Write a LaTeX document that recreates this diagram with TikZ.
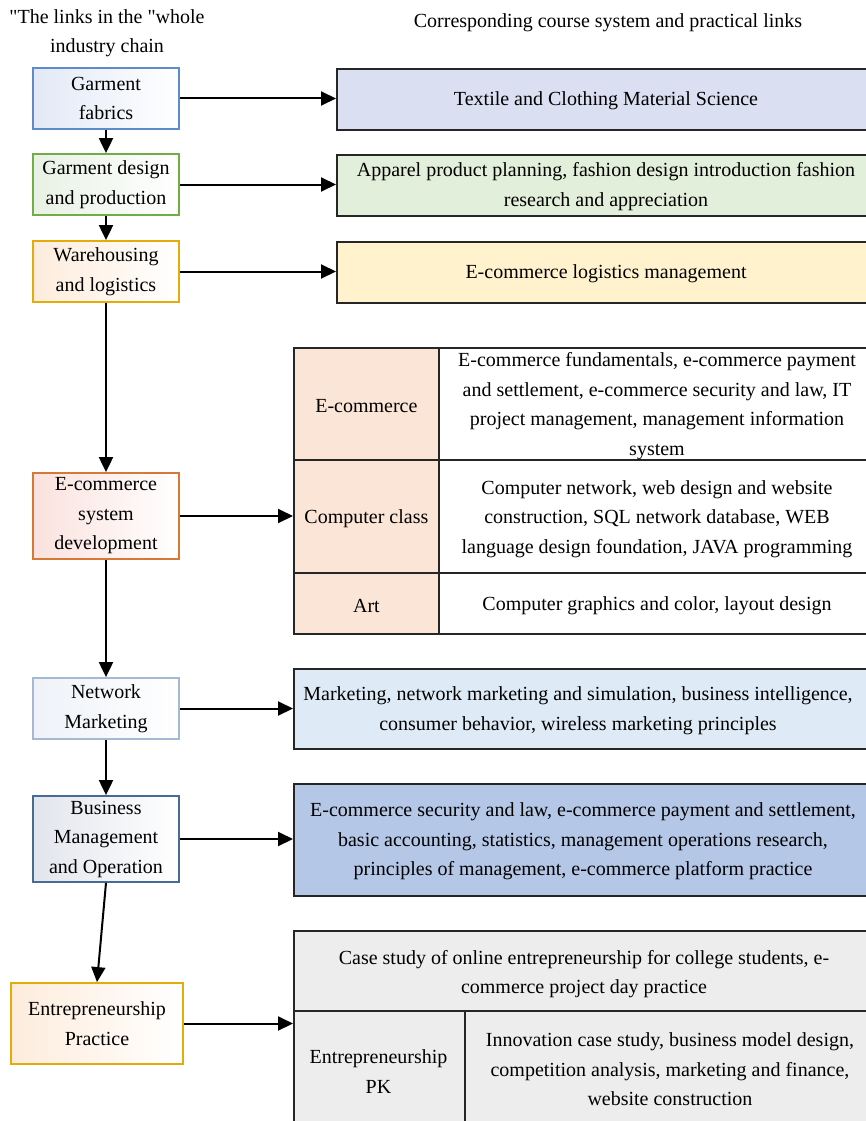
\documentclass[tikz,border=0pt]{standalone}
\usepackage{fontspec}
\setmainfont{Liberation Serif}
\usetikzlibrary{arrows.meta}

% stage borders and tints
\definecolor{bdBlue}{RGB}{95,140,200}
\definecolor{bdGreen}{RGB}{112,173,71}
\definecolor{bdGold}{RGB}{228,172,10}
\definecolor{bdOrange}{RGB}{215,120,55}
\definecolor{bdPale}{RGB}{165,185,210}
\definecolor{bdSteel}{RGB}{70,108,150}
\definecolor{tnBlue}{RGB}{226,233,246}
\definecolor{tnGreen}{RGB}{232,241,228}
\definecolor{tnGold}{RGB}{253,236,220}
\definecolor{tnOrange}{RGB}{250,226,222}
\definecolor{tnPale}{RGB}{238,242,248}
\definecolor{tnSteel}{RGB}{226,229,236}
% course fills
\definecolor{fLavender}{RGB}{218,224,242}
\definecolor{fGreen}{RGB}{226,239,218}
\definecolor{fYellow}{RGB}{255,242,204}
\definecolor{fPeach}{RGB}{251,229,214}
\definecolor{fSky}{RGB}{222,235,247}
\definecolor{fBlue}{RGB}{180,199,231}
\definecolor{fGray}{RGB}{237,237,237}

\begin{document}
\begin{tikzpicture}[x=1pt,y=-1pt,
  txt/.style={font=\fontsize{20}{29.5}\selectfont, align=center, inner sep=0pt},
  ctext/.style={txt, yshift=-2.5pt},
  stage/.style={txt, draw, line width=1.8, minimum width=146, minimum height=61, right color=white},
  course/.style={draw=black!85, line width=1.8, inner sep=0pt, anchor=north west},
  link/.style={line width=2, -{Triangle[length=15pt,width=14pt]}}]
\useasboundingbox (0,0) rectangle (866,1121);
\begin{scope}
\clip (0,0) rectangle (866,1121);

% column headings
\node[txt] (hl) at (107,33) {\textquotedbl The links in the \textquotedbl whole\\industry chain};
\node[ctext] (hr) at (608,20) {Corresponding course system and practical links};

% industry chain stages
\node[stage, draw=bdBlue,   left color=tnBlue]   (gf)  at (106,98.5)  {Garment\\fabrics};
\node[stage, draw=bdGreen,  left color=tnGreen]  (gd)  at (106,184.5) {Garment design\\and production};
\node[stage, draw=bdGold,   left color=tnGold]   (wl)  at (106,271.5) {Warehousing\\and logistics};
\node[stage, draw=bdOrange, left color=tnOrange, minimum height=86] (esd) at (106,516) {E-commerce\\system\\development};
\node[stage, draw=bdPale,   left color=tnPale]   (nm)  at (106,708.5) {Network\\Marketing};
\node[stage, draw=bdSteel,  left color=tnSteel, minimum height=86] (bm)  at (106,839) {Business\\Management\\and Operation};
\node[stage, draw=bdGold,   left color=tnGold, minimum width=172, minimum height=81] (ep) at (97,1023.5) {Entrepreneurship\\Practice};

% course boxes
\node[course, fill=fLavender, minimum width=600, minimum height=61] (c1) at (336,68) {};
\node[ctext] at (606,98) {Textile and Clothing Material Science};

\node[course, fill=fGreen, minimum width=600, minimum height=61] (c2) at (336,154) {};
\node[ctext] at (606,184) {Apparel product planning, fashion design introduction fashion\\research and appreciation};

\node[course, fill=fYellow, minimum width=600, minimum height=61] (c3) at (336,241) {};
\node[ctext] at (606,271) {E-commerce logistics management};

% e-commerce course table
\node[course, fill=fPeach, minimum width=145, minimum height=112] (t1) at (293,347) {};
\node[course, minimum width=500, minimum height=112] (t1r) at (438,347) {};
\node[course, fill=fPeach, minimum width=145, minimum height=113] (t2) at (293,459) {};
\node[course, minimum width=500, minimum height=113] (t2r) at (438,459) {};
\node[course, fill=fPeach, minimum width=145, minimum height=61] (t3) at (293,572) {};
\node[course, minimum width=500, minimum height=61] (t3r) at (438,572) {};
\node[ctext] at (t1.center) {E-commerce};
\node[ctext] at (t2.center) {Computer class};
\node[ctext] at (t3.center) {Art};
\node[ctext] at (657,403.5) {E-commerce fundamentals, e-commerce payment\\and settlement, e-commerce security and law, IT\\project management, management information\\system};
\node[ctext] at (657,516.5) {Computer network, web design and website\\construction, SQL network database, WEB\\language design foundation, JAVA programming};
\node[ctext] at (657,603) {Computer graphics and color, layout design};

\node[course, fill=fSky, minimum width=600, minimum height=80] (c5) at (293,668) {};
\node[ctext] at (578,708) {Marketing, network marketing and simulation, business intelligence,\\consumer behavior, wireless marketing principles};

\node[course, fill=fBlue, minimum width=600, minimum height=112] (c6) at (293,783) {};
\node[ctext] at (583,839) {E-commerce security and law, e-commerce payment and settlement,\\basic accounting, statistics, management operations research,\\principles of management, e-commerce platform practice};

% entrepreneurship table
\node[course, fill=fGray, minimum width=600, minimum height=80] (e1) at (293,930) {};
\node[course, fill=fGray, minimum width=171, minimum height=140] (pk) at (293,1010) {};
\node[course, fill=fGray, minimum width=440, minimum height=140] (e2) at (464,1010) {};
\node[ctext] at (584,971.5) {Case study of online entrepreneurship for college students, e-\\commerce project day practice};
\node[ctext] at (378.5,1069) {Entrepreneurship\\PK};
\node[ctext] at (670,1067) {Innovation case study, business model design,\\competition analysis, marketing and finance,\\website construction};

% chain links
\draw[link] (gf) -- (gd);
\draw[link] (gd) -- (wl);
\draw[link] (wl) -- (esd);
\draw[link] (esd) -- (nm);
\draw[link] (nm) -- (bm);
\draw[link] (bm.south) -- (ep.north);

% stage-to-course links
\draw[link] (gf.east) -- (gf.east -| c1.west);
\draw[link] (gd.east) -- (gd.east -| c2.west);
\draw[link] (wl.east) -- (wl.east -| c3.west);
\draw[link] (esd.east) -- (esd.east -| t2.west);
\draw[link] (nm.east) -- (nm.east -| c5.west);
\draw[link] (bm.east) -- (bm.east -| c6.west);
\draw[link] (ep.east) -- (ep.east -| pk.west);
\end{scope}
\end{tikzpicture}
\end{document}
